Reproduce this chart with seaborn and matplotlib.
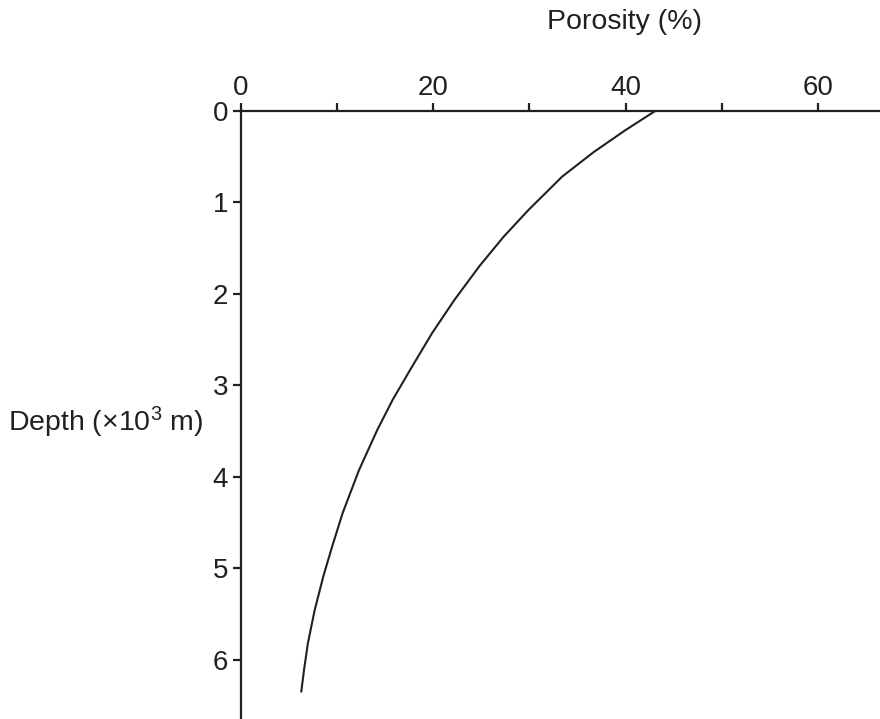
import matplotlib
matplotlib.use("Agg")
import matplotlib.pyplot as plt
import seaborn as sns
import pandas as pd

# Porosity-depth curve (depth in thousands of metres, porosity in %)
depth_km = [0.00, 0.21, 0.45, 0.72, 1.085, 1.38, 1.70, 2.07, 2.43, 2.80,
            3.16, 3.49, 3.93, 4.40, 4.77, 5.09, 5.46, 5.82, 6.11, 6.36]
porosity_pct = [43.1, 40.0, 36.7, 33.4, 29.9, 27.3, 24.8, 22.2, 19.9, 17.8,
                15.8, 14.2, 12.3, 10.6, 9.5, 8.6, 7.7, 7.0, 6.6, 6.3]

x_ticks = [0, 10, 20, 30, 40, 50, 60]
x_tick_labels = ["0", "", "20", "", "40", "", "60"]
y_ticks = [0, 1, 2, 3, 4, 5, 6]
y_tick_labels = ["0", "1", "2", "3", "4", "5", "6"]

df = pd.DataFrame({"depth": depth_km, "porosity": porosity_pct})

sns.set_theme(style="white")
ink = "#231f20"
plt.rcParams["font.family"] = ["Liberation Sans", "DejaVu Sans"]
plt.rcParams["mathtext.fontset"] = "custom"
plt.rcParams["mathtext.rm"] = "Liberation Sans"
plt.rcParams["mathtext.it"] = "Liberation Sans"
plt.rcParams["text.color"] = ink

fig = plt.figure(figsize=(8.8, 7.19), dpi=100)
ax = fig.add_axes([0.2733, 0.0, 0.7267, 0.846])

sns.lineplot(data=df, x="porosity", y="depth", sort=False, estimator=None,
             color=ink, linewidth=1.5, ax=ax,
             solid_joinstyle="round", solid_capstyle="butt")

ax.set_xlim(0, 66.4)
ax.set_ylim(6.65, 0)

for side in ("right", "bottom"):
    ax.spines[side].set_visible(False)
for side in ("left", "top"):
    ax.spines[side].set_color(ink)
    ax.spines[side].set_linewidth(1.6)

ax.xaxis.tick_top()
ax.set_xticks(x_ticks)
ax.set_xticklabels(x_tick_labels)
ax.set_yticks(y_ticks)
ax.set_yticklabels(y_tick_labels)
ax.tick_params(axis="x", which="major", direction="out", length=6, width=1.6,
               color=ink, labelcolor=ink, labelsize=20, pad=1, top=True, bottom=False)
ax.tick_params(axis="y", which="major", direction="out", length=6, width=1.6,
               color=ink, labelcolor=ink, labelsize=20, pad=3, left=True)

ax.xaxis.set_label_position("top")
ax.set_xlabel("Porosity (%)", fontsize=20.5, color=ink, va="center")
ax.xaxis.set_label_coords(0.5997, 1.1458)

ax.set_ylabel("Depth (×10$^{3}$ m)", fontsize=20.5, color=ink,
              rotation=0, ha="right", va="center")
ax.yaxis.set_label_coords(-0.0586, 0.487)

fig.savefig("out.png", dpi=100)
